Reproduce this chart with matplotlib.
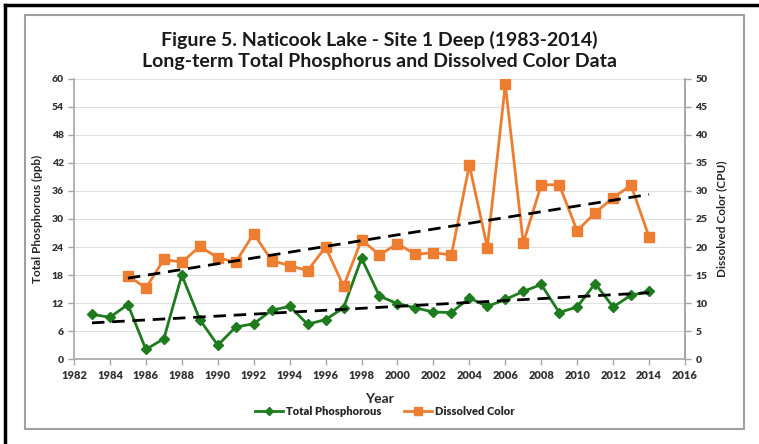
import matplotlib
matplotlib.use("Agg")
import matplotlib.pyplot as plt
import numpy as np
from matplotlib.lines import Line2D
from matplotlib.patches import Rectangle

plt.rcParams['font.family'] = ['Lato', 'DejaVu Sans']

tp_years = list(range(1983, 2015))
tp_values = [9.6, 9.0, 11.7, 2.1, 4.4, 18.0, 8.5, 3.0, 6.9, 7.6, 10.5, 11.3,
             7.5, 8.5, 11.0, 21.6, 13.5, 11.9, 11.0, 10.1, 10.0, 13.1, 11.3,
             12.8, 14.5, 16.0, 10.0, 11.2, 16.2, 11.2, 13.7, 14.5]
dc_years = list(range(1985, 2015))
dc_values = [14.9, 12.7, 17.8, 17.3, 20.1, 18.1, 17.3, 22.4, 17.6, 16.7, 15.8,
             20.0, 13.0, 21.3, 18.6, 20.6, 18.7, 19.0, 18.6, 34.6, 19.9, 49.0,
             20.7, 31.1, 31.1, 22.9, 26.1, 28.8, 31.0, 21.8]

xticks = list(range(1982, 2017, 2))
left_ticks = list(range(0, 61, 6))
right_ticks = list(range(0, 51, 5))

title1 = "Figure 5. Naticook Lake - Site 1 Deep (1983-2014)"
title2 = "Long-term Total Phosphorus and Dissolved Color Data"

green = '#1e7b1e'
orange = '#ed7d31'
tick_col = '#333333'
spine_col = '#a6a6a6'

W, H = 759, 444
fig = plt.figure(figsize=(W / 100, H / 100), dpi=100)

# borders
fig.add_artist(Rectangle((25 / W, 1 - 429 / H), (744 - 25) / W, (429 - 15) / H,
                         transform=fig.transFigure, fill=False, ec='#a0a0a0', lw=1.5))
fig.add_artist(Line2D([5 / W, 5 / W], [0, 1 - 5 / H], transform=fig.transFigure,
                      color='black', lw=2.5))
fig.add_artist(Line2D([5 / W, 1], [1 - 5 / H, 1 - 5 / H], transform=fig.transFigure,
                      color='black', lw=2.5))

ax = fig.add_axes([74 / W, 1 - 359.3 / H, (685 - 74) / W, (359.3 - 78.7) / H])
ax2 = ax.twinx()

ax.set_xlim(1982, 2016)
ax.set_ylim(0, 60)
ax2.set_ylim(0, 50)
ax.set_xticks(xticks)
ax.set_yticks(left_ticks)
ax2.set_yticks(right_ticks)

ax.grid(axis='y', color='#e0e0e0', lw=0.8)
ax.set_axisbelow(True)

for a in (ax, ax2):
    a.spines['top'].set_visible(False)
    for s in ('left', 'right', 'bottom'):
        a.spines[s].set_color(spine_col)
        a.spines[s].set_linewidth(1.2)
    a.tick_params(colors=spine_col, labelcolor=tick_col, labelsize=7.5, length=4, width=1)
for lab in ax.get_xticklabels() + ax.get_yticklabels() + ax2.get_yticklabels():
    lab.set_fontweight('heavy')
ax.tick_params(axis='x', labelsize=8)
ax2.spines['left'].set_visible(False)
ax2.spines['bottom'].set_visible(False)

# data
ax.plot(tp_years, tp_values, color=green, lw=2, marker='D', ms=5.5, mfc=green, mec=green,
        label='Total Phosphorous', zorder=3)
ax2.plot(dc_years, dc_values, color=orange, lw=2, marker='s', ms=7.5, mfc=orange, mec=orange,
         label='Dissolved Color', zorder=3)

# trend lines
p1 = np.polyfit(tp_years, tp_values, 1)
ax.plot([tp_years[0], tp_years[-1]], np.polyval(p1, [tp_years[0], tp_years[-1]]),
        color='black', lw=2, ls=(0, (4.5, 2.8)), zorder=4)
p2 = np.polyfit(dc_years, dc_values, 1)
ax2.plot([dc_years[0], dc_years[-1]], np.polyval(p2, [dc_years[0], dc_years[-1]]),
         color='black', lw=2, ls=(0, (4.5, 2.8)), zorder=4)

ax.set_xlabel('Year', fontsize=10, fontweight='bold', color='#262626', labelpad=9)
ax.set_ylabel('Total Phosphorous (ppb)', fontsize=8.5, fontweight='bold', color='#262626', labelpad=6)
ax2.set_ylabel('Dissolved Color (CPU)', fontsize=8.5, fontweight='bold', color='#262626', labelpad=6)

fig.text(0.5, 1 - 40 / H, title1, ha='center', va='center', fontsize=14, fontweight='bold', color='#1a1a1a')
fig.text(0.5, 1 - 62 / H, title2, ha='center', va='center', fontsize=14, fontweight='bold', color='#1a1a1a')

h1 = Line2D([], [], color=green, lw=2, marker='D', ms=4.5)
h2 = Line2D([], [], color=orange, lw=2, marker='s', ms=6)
leg = fig.legend([h1, h2], ['Total Phosphorous', 'Dissolved Color'], loc='center',
                 bbox_to_anchor=(385 / W, 1 - 411 / H), ncol=2, frameon=False,
                 fontsize=8, handlelength=2.5, columnspacing=2.0, handletextpad=0.3)
for t in leg.get_texts():
    t.set_fontweight('heavy')
    t.set_color('#262626')

fig.savefig('out.png', dpi=100)
